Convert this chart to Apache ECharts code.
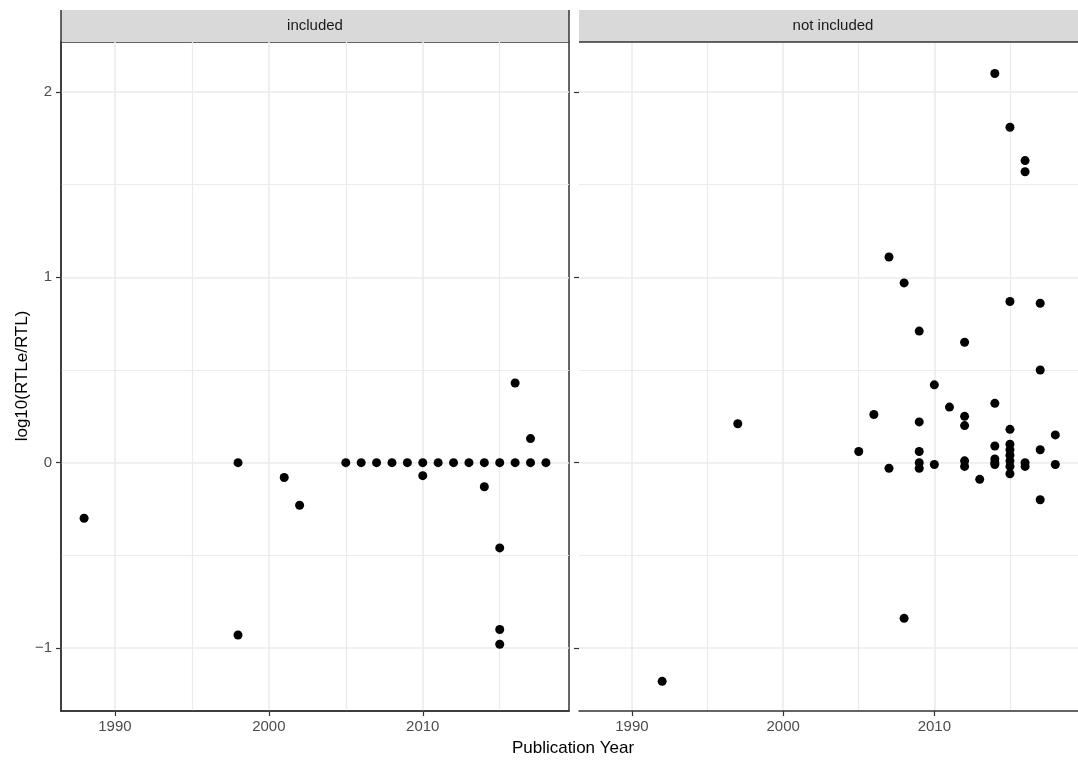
<!DOCTYPE html>
<html>
<head>
<meta charset="utf-8">
<script src="https://cdn.jsdelivr.net/npm/echarts@6/dist/echarts.min.js"></script>
<style>html,body{margin:0;padding:0;background:#fff}#c{width:1078px;height:760px}</style>
</head>
<body>
<div id="c"></div>
<script>
// ---- data ----
const panels = ["included", "not included"];
const xTicks = [1990, 2000, 2010];
const yTicks = [-1, 0, 1, 2];
const xMinor = [1995, 2005, 2015];
const yMinor = [-0.5, 0.5, 1.5];

const inclYears  = [1988, 1998, 1998, 2001, 2002, 2005, 2006, 2007, 2008, 2009, 2010, 2011, 2012, 2013, 2014, 2015, 2016, 2017, 2018, 2010, 2014, 2015, 2015, 2015, 2016, 2017];
const inclValues = [-0.30, 0.00, -0.93, -0.08, -0.23, 0, 0, 0, 0, 0, 0, 0, 0, 0, 0, 0, 0, 0, 0, -0.07, -0.13, -0.46, -0.90, -0.98, 0.43, 0.13];

const notYears  = [1992, 1997, 2005, 2006, 2007, 2007, 2008, 2008, 2009, 2009, 2009, 2009, 2009, 2010, 2010, 2011, 2012, 2012, 2012, 2012, 2012, 2013, 2014, 2014, 2014, 2014, 2014, 2014, 2015, 2015, 2015, 2015, 2015, 2015, 2015, 2015, 2015, 2016, 2016, 2016, 2016, 2017, 2017, 2017, 2017, 2018, 2018];
const notValues = [-1.18, 0.21, 0.06, 0.26, 1.11, -0.03, 0.97, -0.84, 0.71, 0.22, 0.06, 0.00, -0.03, 0.42, -0.01, 0.30, 0.65, 0.25, 0.20, 0.01, -0.02, -0.09, 2.10, 0.32, 0.09, 0.02, 0.00, -0.01, 1.81, 0.87, 0.18, 0.10, 0.07, 0.04, 0.01, -0.02, -0.06, 1.63, 1.57, 0.00, -0.02, 0.86, 0.50, 0.07, -0.20, 0.15, -0.01];

// ---- chart ----
const FONT = '"Liberation Sans", Arial, sans-serif';
const X_MIN = 1986.5, X_MAX = 2019.5, Y_MIN = -1.34, Y_MAX = 2.27;
const grids = [
  {left: 61, top: 42, width: 508, height: 669, show: true, borderColor: '#333', borderWidth: 1.5, backgroundColor: 'transparent'},
  {left: 579, top: 42, width: 508, height: 669}
];

function majorX(gi) {
  return {
    type: 'value', gridIndex: gi, min: X_MIN, max: X_MAX,
    axisLine: {show: true, onZero: false, lineStyle: {color: '#333', width: 1.5}},
    axisTick: {show: true, length: 5, customValues: xTicks, lineStyle: {color: '#333', width: 1.2}},
    axisLabel: {show: true, customValues: xTicks, color: '#4d4d4d', fontSize: 15, fontFamily: FONT, margin: 8, formatter: v => String(v)},
    splitLine: {show: true, lineStyle: {color: '#ebebeb', width: 1.6}}
  };
}
function minorX(gi) {
  return {
    type: 'value', gridIndex: gi, min: X_MIN, max: X_MAX,
    axisLine: {show: false}, axisLabel: {show: false},
    axisTick: {show: false, customValues: xMinor},
    splitLine: {show: true, lineStyle: {color: '#ebebeb', width: 1.2}}
  };
}
function majorY(gi, labels) {
  return {
    type: 'value', gridIndex: gi, min: Y_MIN, max: Y_MAX,
    axisLine: {show: gi === 0, onZero: false, lineStyle: {color: '#333', width: 1.5}},
    axisTick: {show: true, length: 5, customValues: yTicks, lineStyle: {color: '#333', width: 1.2}},
    axisLabel: {show: labels, customValues: yTicks, color: '#4d4d4d', fontSize: 15, fontFamily: FONT, margin: 9,
      formatter: v => (v < 0 ? '\u2212' + Math.abs(v) : String(v))},
    splitLine: {show: true, lineStyle: {color: '#ebebeb', width: 1.6}}
  };
}
function minorY(gi) {
  return {
    type: 'value', gridIndex: gi, min: Y_MIN, max: Y_MAX,
    axisLine: {show: false}, axisLabel: {show: false},
    axisTick: {show: false, customValues: yMinor},
    splitLine: {show: true, lineStyle: {color: '#ebebeb', width: 1.2}}
  };
}

const pts = (xs, ys) => xs.map((x, i) => [x, ys[i]]);

const option = {
  animation: false,
  backgroundColor: '#fff',
  grid: grids,
  xAxis: [majorX(0), majorX(1), minorX(0), minorX(1)],
  yAxis: [majorY(0, true), majorY(1, false), minorY(0), minorY(1)],
  series: [
    {type: 'scatter', name: panels[0], xAxisIndex: 0, yAxisIndex: 0, data: pts(inclYears, inclValues),
     symbol: 'circle', symbolSize: 9, itemStyle: {color: '#000', opacity: 1}, z: 5},
    {type: 'scatter', name: panels[1], xAxisIndex: 1, yAxisIndex: 1, data: pts(notYears, notValues),
     symbol: 'circle', symbolSize: 9, itemStyle: {color: '#000', opacity: 1}, z: 5}
  ],
  graphic: [
    {type: 'rect', shape: {x: 61, y: 10, width: 508, height: 32}, style: {fill: '#d9d9d9'}, z: 10},
    {type: 'rect', shape: {x: 579, y: 10, width: 508, height: 32}, style: {fill: '#d9d9d9'}, z: 10},
    {type: 'line', shape: {x1: 61, y1: 10, x2: 61, y2: 42}, style: {stroke: '#333', lineWidth: 1.5}, z: 11},
    {type: 'line', shape: {x1: 569, y1: 10, x2: 569, y2: 42}, style: {stroke: '#333', lineWidth: 1.5}, z: 11},
    {type: 'line', shape: {x1: 579, y1: 42, x2: 1087, y2: 42}, style: {stroke: '#333', lineWidth: 1.5}, z: 11},
    {type: 'text', x: 315, y: 26, style: {text: panels[0], fill: '#1a1a1a', font: '15px ' + FONT, textAlign: 'center', textVerticalAlign: 'middle'}, z: 12},
    {type: 'text', x: 833, y: 26, style: {text: panels[1], fill: '#1a1a1a', font: '15px ' + FONT, textAlign: 'center', textVerticalAlign: 'middle'}, z: 12},
    {type: 'text', x: 573, y: 748, style: {text: 'Publication Year', fill: '#000', font: '17px ' + FONT, textAlign: 'center', textVerticalAlign: 'middle'}, z: 12},
    {type: 'text', x: 22, y: 376, rotation: Math.PI / 2, style: {text: 'log10(RTLe/RTL)', fill: '#000', font: '17px ' + FONT, textAlign: 'center', textVerticalAlign: 'middle'}, z: 12}
  ]
};

const chart = echarts.init(document.getElementById('c'), null, {renderer: 'canvas'});
chart.setOption(option);
</script>
</body>
</html>
